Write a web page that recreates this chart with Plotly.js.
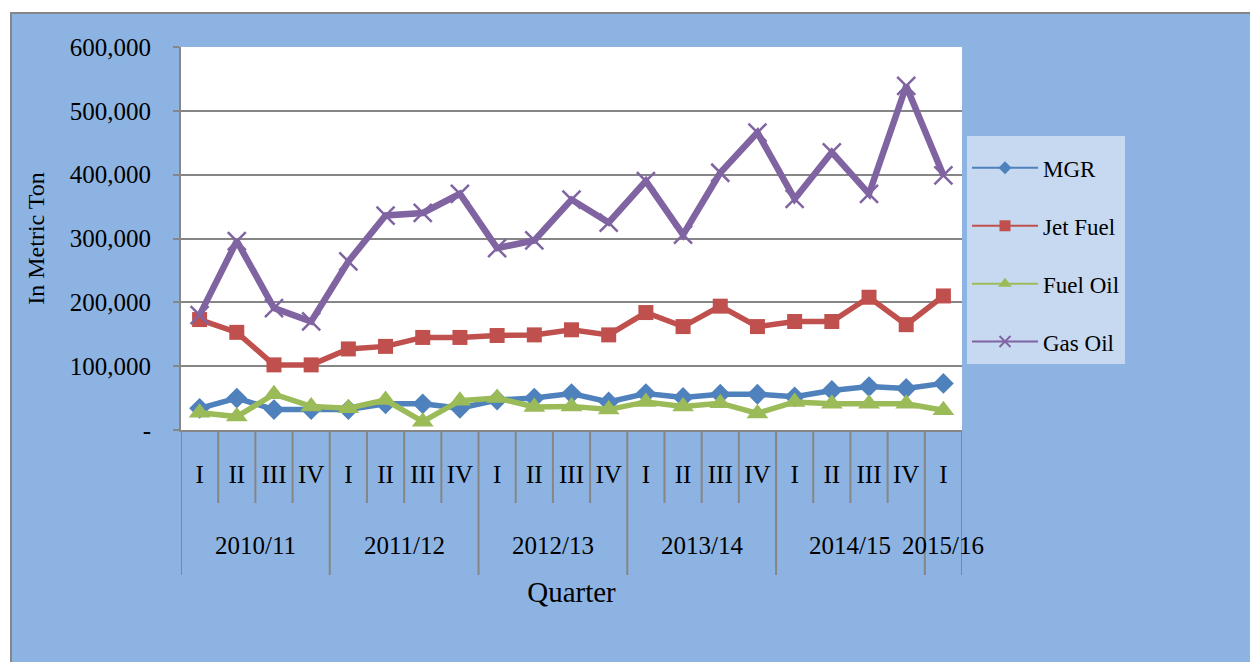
<!DOCTYPE html>
<html><head><meta charset="utf-8">
<script src="https://cdn.plot.ly/plotly-3.0.1.min.js"></script>
<style>
html,body{margin:0;padding:0;background:#fff;width:1250px;height:662px;overflow:hidden}
#frame{position:absolute;left:10px;top:12px;width:1238px;height:648px;background:#8DB3E2;border-left:2px solid #868686;border-top:2px solid #868686;}
#chart{position:absolute;left:0;top:0;width:1238px;height:648px}
</style></head><body>
<div id="frame"><div id="chart"></div></div>
<script>
const quarters = ['I','II','III','IV','I','II','III','IV','I','II','III','IV','I','II','III','IV','I','II','III','IV','I'];
const fiscalYears = ['2010/11','2010/11','2010/11','2010/11','2011/12','2011/12','2011/12','2011/12','2012/13','2012/13','2012/13','2012/13','2013/14','2013/14','2013/14','2013/14','2014/15','2014/15','2014/15','2014/15','2015/16'];
const mgr     = [34000,50000,32000,32000,32000,41000,41000,34000,47000,50000,57000,44000,57000,51000,56000,56000,52000,62000,68000,65000,73000];
const jetFuel = [173000,153000,102000,102000,127000,131000,145000,145000,148000,149000,157000,149000,184000,162000,194000,162000,170000,170000,208000,165000,210000];
const fuelOil = [27000,21000,56000,37000,34000,47000,13000,46000,50000,36000,37000,32000,44000,37000,42000,26000,44000,41000,41000,41000,31000];
const gasOil  = [180000,296000,191000,170000,264000,336000,340000,370000,285000,297000,361000,325000,390000,306000,403000,466000,362000,435000,370000,539000,399000];
const yTickVals = [0,100000,200000,300000,400000,500000,600000];
const yTickText = ['-','100,000','200,000','300,000','400,000','500,000','600,000'];

const xKeys = fiscalYears.map((y,i)=> y + ' ' + quarters[i] + ' #' + i);

const series = [
  {name:'MGR', y:mgr, color:'#4F81BD', symbol:'diamond', size:16, lw:5.5, lsize:10},
  {name:'Jet Fuel', y:jetFuel, color:'#C0504D', symbol:'square', size:15, lw:5.5, lsize:11},
  {name:'Fuel Oil', y:fuelOil, color:'#9BBB59', symbol:'triangle-up', size:19, lw:5.5, lsize:12},
  {name:'Gas Oil', y:gasOil, color:'#8064A2', symbol:'x-thin', size:18, lw:6.5, lsize:11}
];
const data = [];
series.forEach(s=>{
  const m = {symbol:s.symbol, size:s.size, color:s.color};
  if(s.symbol==='x-thin') m.line = {color:s.color, width:2.5};
  data.push({type:'scatter', mode:'lines+markers', name:s.name, x:xKeys, y:s.y,
    showlegend:false, legendgroup:s.name, line:{color:s.color, width:s.lw}, marker:m});
});
// legend entries (thin line + small marker, like the original legend)
series.forEach(s=>{
  const m = {symbol:s.symbol, size:s.lsize, color:s.color};
  if(s.symbol==='x-thin') m.line = {color:s.color, width:2};
  data.push({type:'scatter', mode:'lines+markers', name:s.name, x:[null], y:[null],
    showlegend:true, legendgroup:s.name, line:{color:s.color, width:2}, marker:m, hoverinfo:'skip'});
});

// boundary lines under the axis
const shapes = [];
for(let b=0; b<=xKeys.length; b++){
  const edge = b===0 || b===xKeys.length || fiscalYears[b] !== fiscalYears[b-1];
  shapes.push({type:'line', xref:'x', yref:'paper', x0:b-0.5, x1:b-0.5, y0:0, y1: edge ? -0.3786 : -0.1906,
    line:{color:'#868686', width:2}});
}
// year group labels
const annotations = [];
const uniqYears = [...new Set(fiscalYears)];
uniqYears.forEach(y=>{
  const idx = fiscalYears.map((v,i)=> v===y ? i : -1).filter(i=>i>=0);
  const mid = idx.reduce((a,b)=>a+b,0)/idx.length;
  annotations.push({xref:'x', yref:'paper', x:mid, y:-0.302, text:y, showarrow:false,
    xanchor:'center', yanchor:'middle', font:{size:25, color:'#000'}});
});

const layout = {
  width:1238, height:648,
  margin:{l:169, r:288, t:33, b:232},
  paper_bgcolor:'#8DB3E2', plot_bgcolor:'#FFFFFF',
  font:{family:'"Liberation Serif", "Times New Roman", serif', size:25, color:'#000'},
  showlegend:true,
  legend:{x:1.0064, xanchor:'left', y:0.7676, yanchor:'top', bgcolor:'#C6D9F1',
    font:{size:23}, tracegroupgap:25, traceorder:'grouped', itemwidth:66,
    title:{text:' ', font:{size:8}}},
  xaxis:{type:'category', tickvals:xKeys, ticktext:quarters, ticks:'', showgrid:false,
    showline:true, linecolor:'#868686', linewidth:2, tickfont:{size:25},
    ticklabelstandoff:21, range:[-0.5, xKeys.length-0.5], automargin:false, fixedrange:true,
    title:{text:'Quarter', font:{size:29}, standoff:95}},
  yaxis:{range:[0,600000], tickvals:yTickVals, ticktext:yTickText, ticks:'outside', ticklen:6,
    tickwidth:2, tickcolor:'#868686', showgrid:true, gridcolor:'#868686', gridwidth:2,
    showline:true, linecolor:'#868686', linewidth:2, zeroline:false, tickfont:{size:25},
    ticklabelstandoff:17, automargin:false, fixedrange:true,
    title:{text:'In Metric Ton', font:{size:24}, standoff:18}},
  shapes:shapes,
  annotations:annotations
};
Plotly.newPlot('chart', data, layout, {displayModeBar:false, responsive:false});
</script>
</body></html>
